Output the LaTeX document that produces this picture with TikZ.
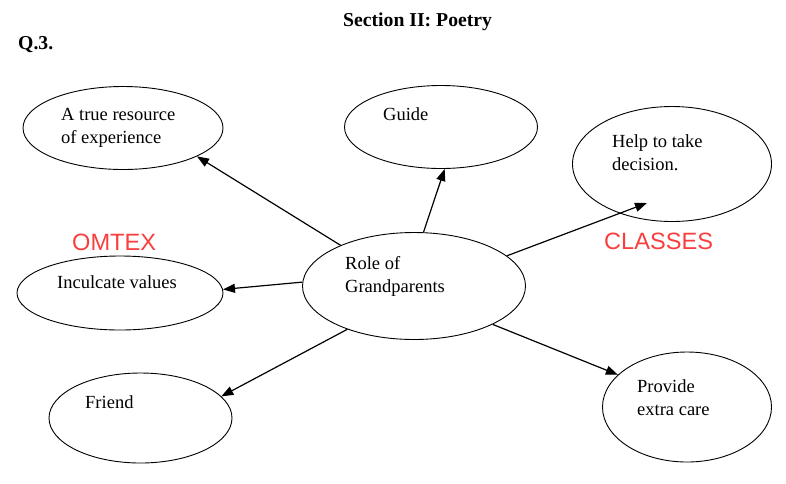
\documentclass[tikz,border=0pt]{standalone}
\usepackage{fontspec}
\setmainfont{Liberation Serif}
\newfontfamily\marksans{Liberation Sans}
\usetikzlibrary{arrows.meta, positioning, calc, shapes.geometric}
\definecolor{markred}{RGB}{250,62,62}
\tikzset{
    gpbubble/.style={ellipse, draw=black, line width=0.9pt, inner sep=0pt},
    gplabel/.style={anchor=base west, inner sep=0pt, align=left, font=\fontsize{18.5}{23.5}\selectfont},
    gphead/.style={anchor=base west, inner sep=0pt, font=\fontsize{19.7}{24}\selectfont\bfseries},
    gpmark/.style={anchor=base west, inner sep=0pt, text=markred, font=\fontsize{23.6}{28}\selectfont\marksans},
    gparrow/.style={-{Triangle[length=12pt,width=9pt]}, line width=1.2pt, draw=black}
}

\begin{document}
\begin{tikzpicture}[x=1pt, y=-1pt]
    \useasboundingbox (0,0) rectangle (786,483);

    % Headings
    \node[gphead] (title) at (343,26) {Section II: Poetry};
    \node[gphead] (qnum) at (18,49) {Q.3.};

    % Bubbles
    \node[gpbubble, minimum width=200pt, minimum height=83pt] (res) at (123,128) {};
    \node[gpbubble, minimum width=193pt, minimum height=83pt] (guide) at (441,127) {};
    \node[gpbubble, minimum width=199pt, minimum height=115pt] (help) at (672,164) {};
    \node[gpbubble, minimum width=223pt, minimum height=107pt] (role) at (414,286) {};
    \node[gpbubble, minimum width=206pt, minimum height=74pt] (values) at (120,293) {};
    \node[gpbubble, minimum width=183pt, minimum height=90pt] (friend) at (140.5,418) {};
    \node[gpbubble, minimum width=169pt, minimum height=110pt] (care) at (687,407) {};

    % Bubble texts (two-line ones sit on their last baseline)
    \node[gplabel] (restext) at (61,143.5) {A true resource\\of experience};
    \node[gplabel] (guidetext) at (383,120) {Guide};
    \node[gplabel] (helptext) at (612,170.5) {Help to take\\decision.};
    \node[gplabel] (roletext) at (345,292.5) {Role of\\Grandparents};
    \node[gplabel] (valuestext) at (57,288) {Inculcate values};
    \node[gplabel] (friendtext) at (85,408) {Friend};
    \node[gplabel] (caretext) at (637,415.5) {Provide\\extra care};

    % Watermark
    \node[gpmark] (omtex) at (72,250) {OMTEX};
    \node[gpmark] (classes) at (604,249) {CLASSES};

    % Arrows out of the centre
    \coordinate (helptip) at (647,203);
    \draw[gparrow] (role.151) -- (res.-21);
    \draw[gparrow] (role.80) -- (guide.-85);
    \draw[gparrow] (role.18) -- (helptip);
    \draw[gparrow] (role.178) -- (values.2);
    \draw[gparrow] (role.213) -- (friend.15);
    \draw[gparrow] (role.334) -- (care.155);
\end{tikzpicture}
\end{document}
